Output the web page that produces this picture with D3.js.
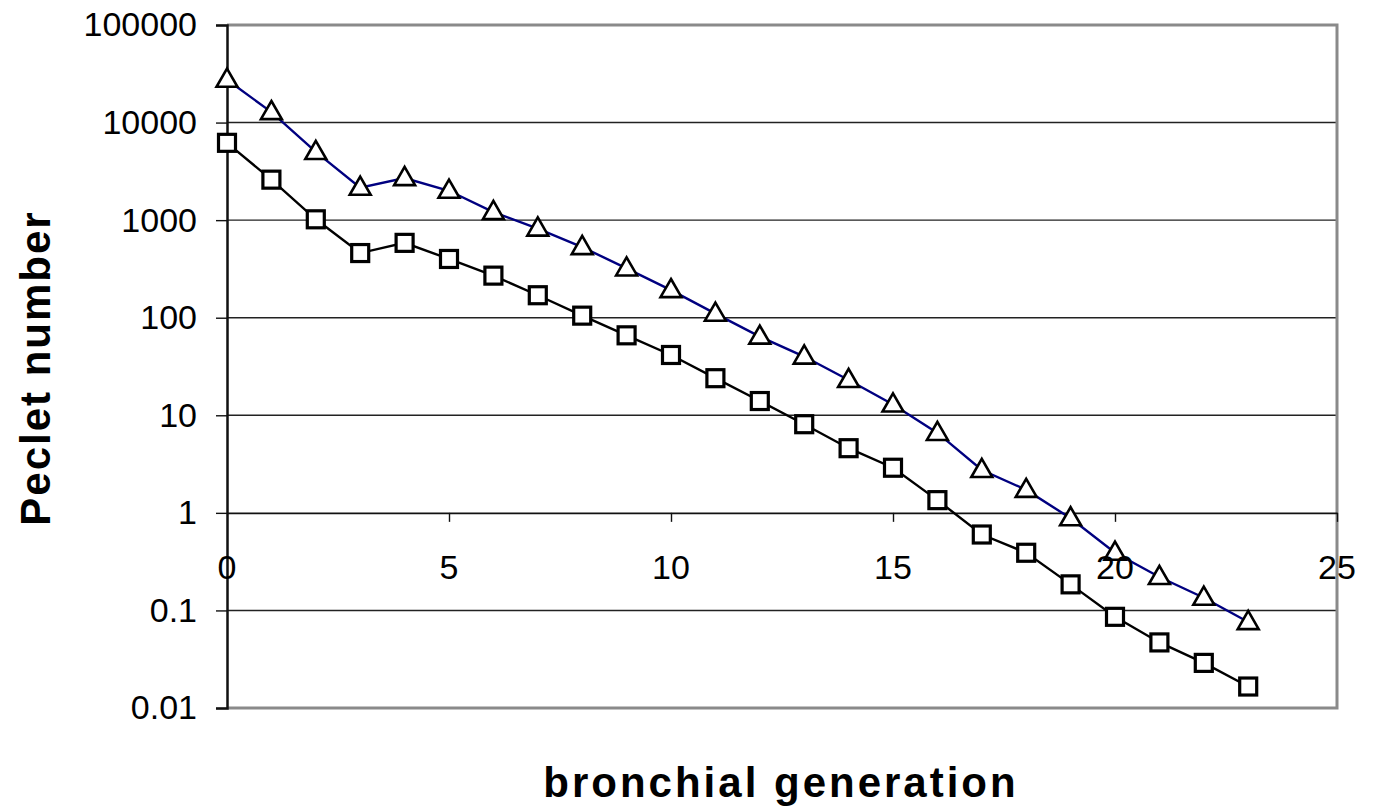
<!DOCTYPE html>
<html>
<head>
<meta charset="utf-8">
<script src="https://cdn.jsdelivr.net/npm/d3@7"></script>
<style>
  body { margin: 0; background: #fff; }
  text { font-family: "Liberation Sans", Arial, sans-serif; }
</style>
</head>
<body>
<script>
// bronchial generation 0..23
var generations = d3.range(0, 24);
// upper series (triangles)
var pecletTri = [27500, 12800, 5000, 2150, 2700, 2000, 1210, 820, 530, 320, 192, 110,
  64, 40, 23, 12.9, 6.6, 2.75, 1.72, 0.88, 0.39, 0.22, 0.135, 0.076];
// lower series (squares)
var pecletSq = [6200, 2600, 1020, 460, 585, 400, 270, 170, 105, 66, 41.5, 24,
  14, 8.1, 4.6, 2.9, 1.35, 0.6, 0.39, 0.185, 0.086, 0.047, 0.029, 0.0166];
var yTicks = [0.01, 0.1, 1, 10, 100, 1000, 10000, 100000];
var xTicks = [0, 5, 10, 15, 20, 25];

var svgWidth = 1374, svgHeight = 808;
var margin = {top: 25, right: 37, bottom: 100, left: 227};
var width = svgWidth - margin.left - margin.right;
var height = svgHeight - margin.top - margin.bottom;

var svg = d3.select("body").append("svg")
  .attr("width", svgWidth)
  .attr("height", svgHeight);

var chartGroup = svg.append("g")
  .attr("transform", `translate(${margin.left}, ${margin.top})`);

var x = d3.scaleLinear().domain([0, 25]).range([0, width]);
var y = d3.scaleLog().domain([0.01, 100000]).range([height, 0]);

// horizontal gridlines
chartGroup.selectAll(".grid")
  .data(yTicks.filter(d => d > 0.01 && d < 100000 && d !== 1))
  .enter().append("line")
  .attr("x1", 0).attr("x2", width)
  .attr("y1", d => y(d)).attr("y2", d => y(d))
  .attr("stroke", "#222").attr("stroke-width", 1.4);

// plot border (gray)
chartGroup.append("path")
  .attr("d", `M0,0H${width}V${height}H0`)
  .attr("fill", "none")
  .attr("stroke", "#8a8a8a")
  .attr("stroke-width", 3);

// y axis
var leftAxis = d3.axisLeft(y).tickValues(yTicks).tickFormat(d => String(d)).tickSize(11).tickPadding(19);
var yAxisG = chartGroup.append("g").call(leftAxis);
yAxisG.select(".domain").attr("stroke", "#111").attr("stroke-width", 2.5);
yAxisG.selectAll(".tick line").attr("stroke", "#111").attr("stroke-width", 1.4);
yAxisG.selectAll(".tick text")
  .attr("fill", "#000")
  .style("font-size", "34px")
  .style("font-family", "'Liberation Sans', Arial, sans-serif");

// x axis crossing at y = 1
var bottomAxis = d3.axisBottom(x).tickValues(xTicks).tickSizeInner(9).tickSizeOuter(0).tickPadding(30);
var xAxisG = chartGroup.append("g")
  .attr("transform", `translate(0, ${y(1)})`)
  .call(bottomAxis);
xAxisG.select(".domain").attr("stroke", "#111").attr("stroke-width", 1.6);
xAxisG.selectAll(".tick line").attr("stroke", "#111").attr("stroke-width", 1.4)
  .attr("opacity", d => d === 0 ? 0 : 1);
xAxisG.selectAll(".tick text").remove();

// series lines
var lineTri = d3.line().x((d, i) => x(generations[i])).y(d => y(d));
chartGroup.append("path")
  .datum(pecletTri)
  .attr("d", lineTri)
  .attr("fill", "none")
  .attr("stroke", "#000080")
  .attr("stroke-width", 2.4);

chartGroup.append("path")
  .datum(pecletSq)
  .attr("d", lineTri)
  .attr("fill", "none")
  .attr("stroke", "#000")
  .attr("stroke-width", 2.4);

// square markers
var sq = 17;
chartGroup.selectAll(".sq")
  .data(pecletSq)
  .enter().append("rect")
  .attr("x", (d, i) => x(generations[i]) - sq / 2)
  .attr("y", d => y(d) - sq / 2)
  .attr("width", sq).attr("height", sq)
  .attr("fill", "#fff")
  .attr("stroke", "#000")
  .attr("stroke-width", 3.2);

// triangle markers
var tri = d3.symbol().type(d3.symbolTriangle).size(190);
chartGroup.selectAll(".tri")
  .data(pecletTri)
  .enter().append("path")
  .attr("d", tri)
  .attr("transform", (d, i) => `translate(${x(generations[i])}, ${y(d) + 1})`)
  .attr("fill", "#fff")
  .attr("stroke", "#000")
  .attr("stroke-width", 2.6);

// x tick labels on top
chartGroup.selectAll(".xlab")
  .data(xTicks)
  .enter().append("text")
  .attr("x", d => x(d))
  .attr("y", y(1) + 66)
  .attr("text-anchor", "middle")
  .style("font-size", "34px")
  .attr("fill", "#000")
  .text(d => d);

// axis titles
svg.append("text")
  .attr("transform", "translate(50, 368) rotate(-90)")
  .attr("text-anchor", "middle")
  .style("font-size", "42px")
  .style("font-weight", "bold")
  .style("letter-spacing", "2px")
  .text("Peclet number");

svg.append("text")
  .attr("x", 781)
  .attr("y", 797)
  .attr("text-anchor", "middle")
  .style("font-size", "42px")
  .style("font-weight", "bold")
  .style("letter-spacing", "3px")
  .text("bronchial generation");
</script>
</body>
</html>
